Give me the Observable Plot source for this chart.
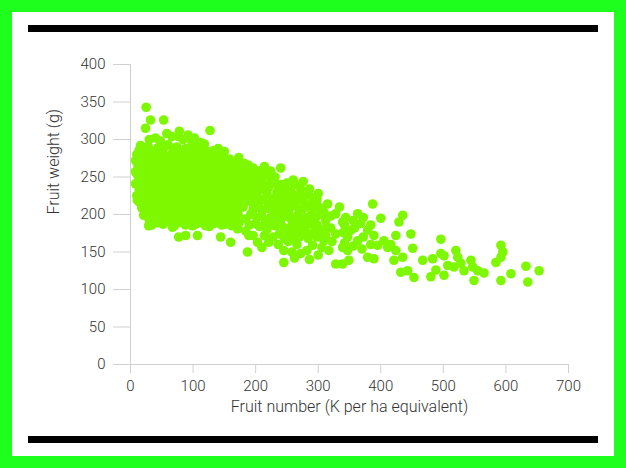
<!DOCTYPE html>
<html>
<head>
<meta charset="utf-8">
<script src="https://cdn.jsdelivr.net/npm/d3@7"></script>
<script src="https://cdn.jsdelivr.net/npm/@observablehq/plot@0.6"></script>
<style>
  html, body { margin: 0; padding: 0; background: #fff; }
  #frame { position: relative; width: 626px; height: 468px; background: #1eff1e; overflow: hidden; }
  #inner { position: absolute; left: 12px; top: 12px; width: 602px; height: 444px; background: #fff; }
  .bar { position: absolute; left: 28px; width: 570px; height: 7px; background: #000; }
  #chart { position: absolute; left: 0; top: 0; }
</style>
</head>
<body>
<div id="frame">
  <div id="inner"></div>
  <div class="bar" style="top:25px"></div>
  <div class="bar" style="top:436px"></div>
  <div id="chart"></div>
</div>
<script>
const xTicks = [0, 100, 200, 300, 400, 500, 600, 700];
const yTicks = [0, 50, 100, 150, 200, 250, 300, 350, 400];
const xLabel = "Fruit number (K per ha equivalent)";
const yLabel = "Fruit weight (g)";

// [fruit number, fruit weight]
const topOutliers = [[25,343],[32,326],[53,326],[24,315],[78,311],[127,312],[16,292]];

const denseCore = [
  [40,302],[48,298],[66,304],[84,300],[98,297],[112,296],[58,308],[92,306],
  [30,300],[76,304],[102,302],[118,294],[140,288],[150,284],
  [14,286],[28,291],[44,289],[60,293],[74,290],[88,288],[104,291],[118,287],[132,285],
  [10,280],[22,283],[36,281],[50,284],[64,279],[80,282],[94,280],[108,283],[122,278],[138,280],[150,276],
  [8,272],[18,275],[32,273],[46,276],[60,271],[74,274],[88,272],[102,275],[116,270],[130,273],[144,271],[158,274],[168,270],
  [12,265],[26,267],[40,264],[54,268],[68,265],[82,267],[96,263],[110,266],[124,264],[138,267],[152,263],[166,265],[178,262],
  [8,257],[20,259],[34,256],[48,260],[62,257],[76,259],[90,255],[104,258],[118,256],[132,259],[146,255],[160,258],[174,256],[186,258],
  [14,249],[28,251],[42,248],[56,252],[70,249],[84,251],[98,247],[112,250],[126,248],[140,251],[154,247],[168,250],[182,248],[194,251],
  [8,241],[22,243],[36,240],[50,244],[64,241],[78,243],[92,239],[106,242],[120,240],[134,243],[148,239],[162,242],[176,240],[190,243],
  [14,233],[28,235],[42,232],[56,236],[70,233],[84,235],[98,231],[112,234],[126,232],[140,235],[154,231],[168,234],[182,232],[196,235],
  [10,225],[24,227],[38,224],[52,228],[66,225],[80,227],[94,223],[108,226],[122,224],[136,227],[150,223],[164,226],[178,224],[192,227],
  [14,217],[28,219],[42,216],[56,220],[70,217],[84,219],[98,215],[112,218],[126,216],[140,219],[154,215],[168,218],[182,216],
  [18,209],[32,211],[46,208],[60,212],[74,209],[88,211],[102,207],[116,210],[130,208],[144,211],[158,207],[172,210],
  [24,201],[38,203],[52,200],[66,204],[80,201],[96,203],[110,200],[126,202],[142,199],[158,203],[172,200],
  [30,193],[44,195],[58,192],[74,196],[90,193],[106,195],[122,192],[138,194],[152,192],[168,195],
  [34,186],[52,187],[70,185],[88,186],[104,187],[126,184],[146,186],[162,185],
  [11,219],[21,199],[29,185],[40,194],[64,194],[67,183],[77,170],[88,172],[99,185],[107,172],
  [120,185],[123,192],[144,170],[160,163],[155,190],[171,181],[85,205],[112,210]
];

const denseFill = [
  [21,286],[35,285],[52,287],[68,286],[82,285],[96,286],[112,285],[126,283],
  [15,278],[29,277],[43,279],[57,277],[71,278],[87,277],[101,279],[115,277],[130,278],[145,279],
  [13,269],[25,270],[39,269],[53,271],[67,269],[81,270],[95,268],[109,270],[123,269],[137,270],[151,268],[163,269],
  [15,261],[27,262],[41,261],[55,263],[69,261],[83,262],[97,260],[111,262],[125,261],[139,262],[153,260],[167,261],[181,260],
  [11,253],[21,254],[35,253],[49,255],[63,253],[77,254],[91,252],[105,254],[119,253],[133,254],[147,252],[161,254],[175,252],[188,254],
  [17,245],[31,246],[45,245],[59,247],[73,245],[87,246],[101,244],[115,246],[129,245],[143,246],[157,244],[171,246],[185,245],
  [15,237],[29,238],[43,237],[57,239],[71,237],[85,238],[99,236],[113,238],[127,237],[141,238],[155,236],[169,238],[183,237],[197,239],
  [17,229],[31,230],[45,229],[59,231],[73,229],[87,230],[101,228],[115,230],[129,229],[143,230],[157,228],[171,230],[185,229],
  [19,221],[33,222],[47,221],[61,223],[75,221],[89,222],[103,220],[117,222],[131,221],[145,222],[159,220],[173,222],[187,221],
  [23,213],[37,214],[51,213],[65,215],[79,213],[93,214],[107,212],[121,214],[135,213],[149,214],[163,212],[177,214],
  [27,205],[41,206],[55,205],[71,207],[87,205],[101,206],[117,204],[133,206],[149,205],[165,206],
  [33,197],[47,198],[63,197],[81,199],[97,197],[113,198],[129,196],[145,198],[161,197],
  [44,189],[62,190],[80,189],[96,190],[114,189],[134,188],[152,187]
];

const midCloud = [
  [173,276],[189,261],[231,250],[205,241],[221,237],[272,234],[264,225],[291,214],[315,214],[309,203],
  [328,201],[339,190],[312,192],[280,196],[253,205],[237,214],[189,172],[187,150],[203,163],[221,163],
  [245,152],[245,136],[272,148],[291,159],[309,165],[317,152],[328,174],[339,156],[328,134],[259,170],
  [280,176],[309,181],[232,185],[200,188],[173,188],[264,188],
  [200,256],[214,252],[196,244],[210,246],[226,244],[240,240],[204,232],[218,228],[234,230],[248,228],
  [256,236],[198,222],[212,220],[226,218],[242,222],[256,218],[270,222],[284,226],[204,212],[220,208],
  [232,204],[246,210],[262,212],[276,208],[290,204],[298,220],[210,198],[224,196],[240,194],[254,196],
  [268,200],[296,196],[206,184],[218,180],[246,182],[258,186],[274,184],[290,188],[300,178],[184,178],
  [196,172],[214,172],[238,174],[252,164],[266,160],[284,168],[298,170],[320,182],[236,160],[210,156],
  [258,150],[282,152],[300,146],[262,142],[286,140],[306,156],[322,164],[334,210],[320,198],[300,210],
  [276,244],[286,234],[300,228],[224,258],[240,262],[260,246],[214,264],[180,210],[192,200],[184,194],
  [196,214],[186,230],[182,238],[180,222],[190,252],[176,246],[188,266],
  [194,236],[208,238],[222,240],[236,236],[250,242],[264,240],
  [202,226],[216,232],[230,222],[244,234],[258,228],[272,226],
  [190,218],[206,220],[220,214],[234,216],[250,218],[264,216],[278,216],[292,222],
  [196,206],[210,206],[226,210],[240,206],[254,212],[270,206],[284,212],[306,208],
  [202,196],[216,190],[230,196],[248,198],[262,196],[276,194],[290,196],[304,200],
  [190,186],[226,186],[240,188],[252,178],[266,178],[282,186],[298,186],[312,172],
  [228,170],[246,168],[270,170],[292,176],
  [172,262],[182,268],[196,262],[206,258],[220,252],[180,254],[200,250]
];

const tail = [
  [344,196],[363,201],[368,188],[379,179],[352,179],[347,170],[363,165],[389,172],[395,159],[411,156],
  [424,152],[435,143],[451,155],[379,143],[389,141],[421,139],[467,139],[483,141],[496,148],[432,123],
  [443,125],[453,116],[480,117],[488,126],[501,119],[347,152],[349,139],[339,134],
  [387,214],[435,199],[429,190],[400,195],[424,172],[448,174],[496,167],
  [520,152],[523,143],[507,132],[517,130],[528,135],[533,125],[544,139],[547,130],[555,125],[565,122],
  [549,112],[592,159],[595,150],[592,143],[584,136],[592,112],[608,121],[632,131],[635,110],[653,125],
  [501,145],[405,165],[416,160],
  [342,186],[356,192],[372,196],[340,176],[358,182],[372,170],[384,186],[342,162],[356,158],[370,154],[384,160]
];

const points = [...topOutliers, ...denseCore, ...denseFill, ...midCloud, ...tail];

const axisColor = "#d0d0d0";
const textColor = "#333";

const chart = Plot.plot({
  width: 626,
  height: 468,
  marginLeft: 130,
  marginRight: 58,
  marginTop: 64,
  marginBottom: 104,
  style: {background: "transparent", fontFamily: "Roboto, 'Noto Sans', sans-serif", fontSize: "15px", color: textColor, fontWeight: 300},
  x: {domain: [0, 700]},
  y: {domain: [0, 400]},
  marks: [
    Plot.ruleX([0], {stroke: axisColor}),
    Plot.ruleY([0], {stroke: axisColor}),
    Plot.axisY({ticks: yTicks, tickSize: 17, tickPadding: 8, stroke: axisColor, fill: textColor, label: null}),
    Plot.axisX({ticks: xTicks, tickSize: 9, tickPadding: 7, stroke: axisColor, fill: textColor, label: null}),
    Plot.text([yLabel], {frameAnchor: "left", dx: -77, rotate: -90, fill: textColor, fontSize: 16}),
    Plot.text([xLabel], {frameAnchor: "bottom", dy: 47, fill: textColor, fontSize: 16}),
    Plot.dot(points, {x: d => d[0], y: d => d[1], r: 4.8, fill: "#7ef800"})
  ]
});
document.getElementById("chart").appendChild(chart);
</script>
</body>
</html>
